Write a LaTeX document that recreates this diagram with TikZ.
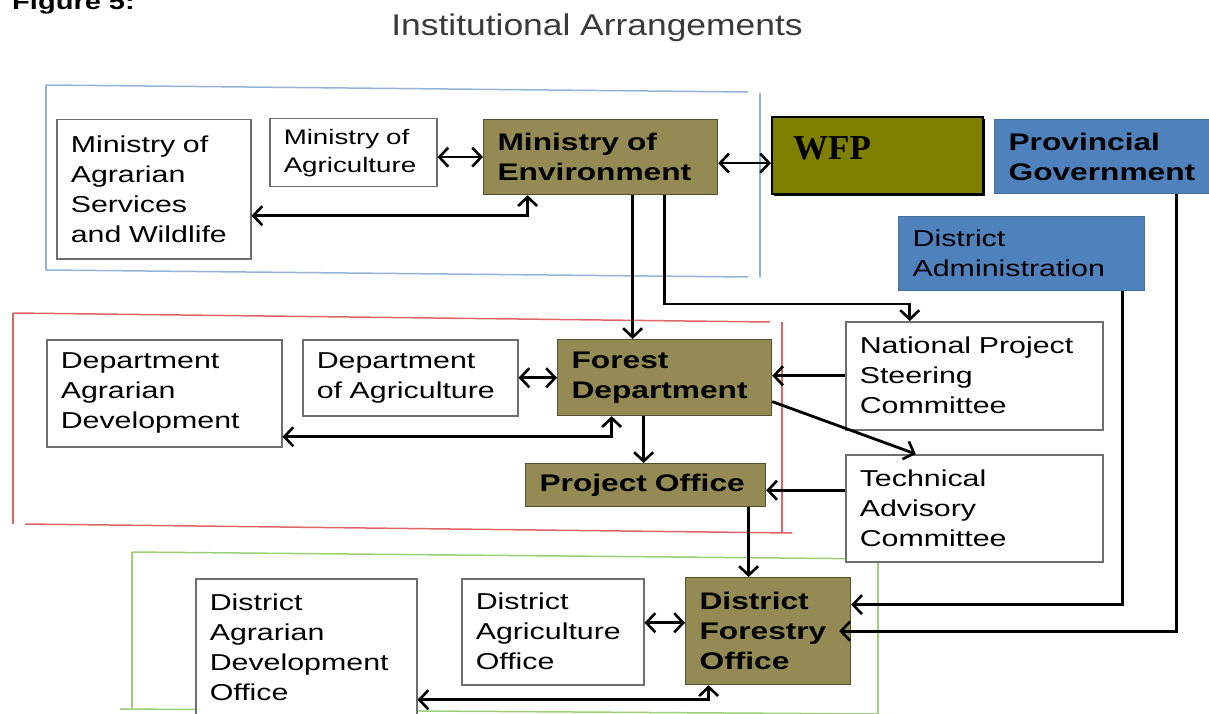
\documentclass[tikz,border=0pt]{standalone}
\usepackage{fontspec}
\setmainfont{Liberation Sans}
\newfontfamily\boxfont[FakeStretch=1.32]{Liberation Sans}
\newfontfamily\titlefont[FakeStretch=1.18]{Liberation Sans}
\newfontfamily\wfpfont{Liberation Serif}
\usetikzlibrary{arrows.meta,calc}
\definecolor{olivebox}{HTML}{948A54}
\definecolor{olivedark}{HTML}{55512F}
\definecolor{wfpolive}{HTML}{808000}
\definecolor{blueA}{HTML}{4F81BD}
\definecolor{blueD}{HTML}{41719C}
\definecolor{boxgray}{HTML}{6E6E6E}
\definecolor{titlegray}{HTML}{3A3A3A}
\definecolor{frameblue}{HTML}{95B3D7}
\definecolor{framered}{HTML}{E06666}
\definecolor{framegreen}{HTML}{9BD077}
\begin{document}
\begin{tikzpicture}[x=1pt,y=-1pt,
  >={Straight Barb[length=9pt,width=19pt,line width=2.6pt]},
  box/.style={draw=boxgray, line width=1.5pt, fill=white, anchor=north west,
    inner xsep=14pt, inner ysep=0pt, align=left, text=black,
    font=\boxfont\fontsize{23}{30}\selectfont},
  smallbox/.style={box, font=\boxfont\fontsize{21}{28}\selectfont},
  olbox/.style={box, fill=olivebox, draw=olivedark, line width=1.2pt,
    font=\boxfont\bfseries\fontsize{24}{30}\selectfont},
  bluebox/.style={box, fill=blueA, draw=blueD, line width=1.2pt},
  bluebold/.style={bluebox, font=\boxfont\bfseries\fontsize{24}{30}\selectfont},
  conn/.style={line width=2.8pt, draw=black},
  frame/.style={line width=1.5pt}
]
\useasboundingbox (0,0) rectangle (1209,714);
\clip (0,0) rectangle (1209,714);

% caption and title
\node[font=\boxfont\bfseries\fontsize{22}{26}\selectfont, anchor=base west, inner sep=0pt] (fig) at (12,10) {Figure 5:};
\node[font=\titlefont\fontsize{30}{36}\selectfont, text=titlegray, anchor=base, inner sep=0pt] (title) at (597,36) {Institutional Arrangements};

% frames
\draw[frame, draw=frameblue] (46,85) -- (748,92);
\draw[frame, draw=frameblue] (46,85) -- (46,270);
\draw[frame, draw=frameblue] (46,270) -- (748,277);
\draw[frame, draw=frameblue] (760,93) -- (760,277);

\draw[frame, draw=framered] (13,313) -- (770,322);
\draw[frame, draw=framered] (13,313) -- (13,524);
\draw[frame, draw=framered] (25,524) -- (792,533);
\draw[frame, draw=framered] (782,322) -- (782,533);

\draw[frame, draw=framegreen] (132,552) -- (887,559);
\draw[frame, draw=framegreen] (132,552) -- (132,710);
\draw[frame, draw=framegreen] (120,709) -- (878,714);
\draw[frame, draw=framegreen] (878,552) -- (878,714);

% top level
\node[box, minimum width=194pt, minimum height=139pt, text width=166pt] (masw) at (56,119) {Ministry~of\\Agrarian\\Services\\and~Wildlife};
\node[smallbox, minimum width=167pt, minimum height=68pt, text width=139pt] (moa) at (269,118) {Ministry~of\\Agriculture};
\node[olbox, minimum width=234pt, minimum height=75pt, text width=206pt] (moe) at (483,119) {Ministry~of\\Environment};
\fill[black] (774,119) rectangle (985,196);
\node[box, fill=wfpolive, draw=black, line width=2pt, minimum width=211pt, minimum height=77pt, text width=183pt] (wfp) at (771,116) {};
\node[font=\wfpfont\bfseries\fontsize{35}{40}\selectfont, anchor=base west, inner sep=0pt] (wfpt) at (793,160) {WFP};
\node[bluebold, minimum width=225pt, minimum height=74pt, text width=197pt] (pg) at (994,119) {Provincial\\Government};
\node[bluebox, minimum width=246pt, minimum height=74pt, text width=218pt] (da) at (898,216) {District\\Administration};

% middle level
\node[box, minimum width=257pt, minimum height=108pt, text width=229pt] (npsc) at (845,321) {National~Project\\Steering\\Committee};
\node[box, minimum width=235pt, minimum height=107pt, text width=207pt] (dad) at (46,339) {Department\\Agrarian\\Development};
\node[box, minimum width=215pt, minimum height=76pt, text width=187pt] (dag) at (302,339) {Department\\of~Agriculture};
\node[olbox, minimum width=214pt, minimum height=76pt, text width=186pt] (fd) at (557,339) {Forest\\Department};
\node[olbox, minimum width=240pt, minimum height=43pt, text width=212pt] (po) at (525,463) {Project~Office};
\node[box, minimum width=257pt, minimum height=107pt, text width=229pt] (tac) at (845,454) {Technical\\Advisory\\Committee};

% bottom level
\node[box, minimum width=221pt, minimum height=138pt, text width=193pt] (dado) at (195,578) {District\\Agrarian\\Development\\Office};
\node[box, minimum width=182pt, minimum height=106pt, text width=154pt] (dao) at (461,578) {District\\Agriculture\\Office};
\node[olbox, minimum width=165pt, minimum height=107pt, text width=137pt] (dfo) at (685,577) {District\\Forestry\\Office};

% connectors
\draw[conn, <->] (moe.west -| moa.east) -- (moe.west);
\draw[conn, <->] ([yshift=-26.5pt]masw.east) -| ([xshift=-73pt]moe.south);
\draw[conn, <->] ([yshift=-6pt]moe.east) -- ([yshift=-6pt]moe.east -| wfp.west);
\draw[conn, ->] ([xshift=32pt]moe.south) -- ([xshift=32pt]moe.south |- fd.north);
\draw[conn, ->] ([xshift=64pt]moe.south) |- ([xshift=-64.5pt,yshift=17pt]npsc.north) -- ([xshift=-64.5pt]npsc.north);
\draw[conn, ->] (npsc.west) -- (npsc.west -| fd.east);
\draw[conn, ->] ([yshift=-24pt]fd.east) -- ([xshift=-58.5pt]tac.north);
\draw[conn, ->] ([xshift=-21pt]fd.south) -- ([xshift=-21pt]fd.south |- po.north);
\draw[conn, <->] ([yshift=-43.5pt]dad.east) -| ([xshift=-53pt]fd.south);
\draw[conn, <->] (dag.east) -- (dag.east -| fd.west);
\draw[conn, ->] ([yshift=18pt]tac.west) -- ([yshift=18pt]tac.west -| po.east);
\draw[conn, ->] ([xshift=103pt]po.south) -- ([xshift=103pt]po.south |- dfo.north);
\draw[conn, ->] ([xshift=101pt]da.south) |- ([yshift=26.5pt]dfo.east);
\draw[conn, ->, shorten >=-12pt] ([xshift=69.5pt]pg.south) |- (dfo.east);
\draw[conn, <->] ([yshift=9pt]dao.east) -- ([yshift=9pt]dao.east -| dfo.west);
\draw[conn, <->] ([yshift=-52pt]dado.east) -| ([xshift=-59.5pt]dfo.south);
\end{tikzpicture}
\end{document}
